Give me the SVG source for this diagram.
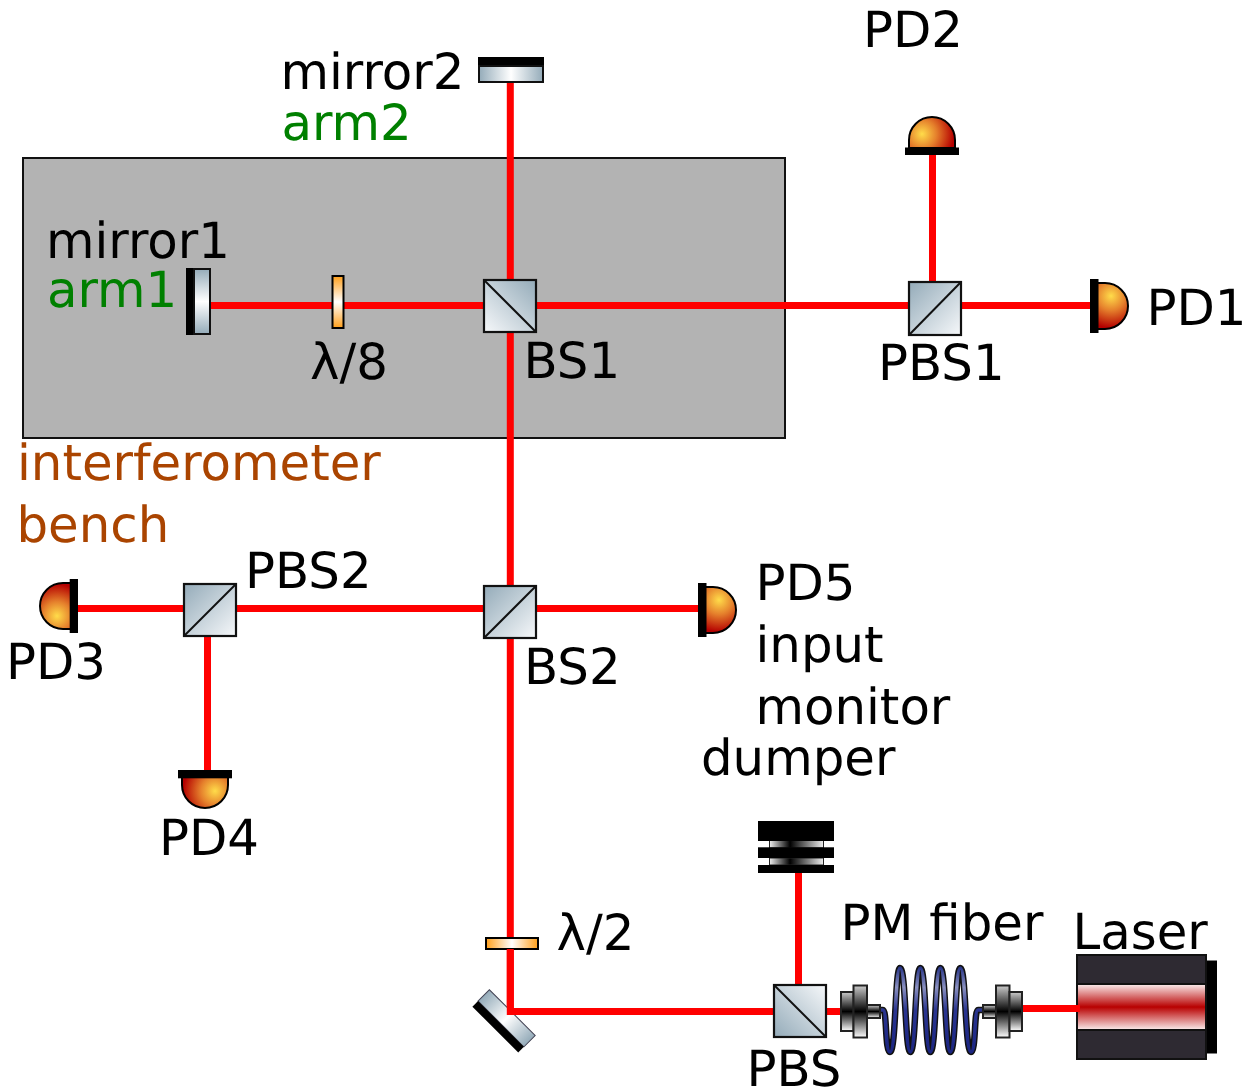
<svg xmlns="http://www.w3.org/2000/svg" xmlns:xlink="http://www.w3.org/1999/xlink" width="1250" height="1092" viewBox="0 0 1250 1092">
<style>
text{font-family:"DejaVu Sans",sans-serif;font-size:49.8px;fill:#000;text-rendering:geometricPrecision}
.g{fill:#008000}.o{fill:#aa4400}
.beam{fill:none;stroke:#f00;stroke-width:7}
.tl{fill:url(#cubeTL);stroke:#111;stroke-width:2.200}
.tr{fill:url(#cubeTR);stroke:#111;stroke-width:2.200}
.bl{fill:url(#cubeBL);stroke:#111;stroke-width:2.200}
.diag{stroke:#111;stroke-width:2;fill:none}
.pd{fill:url(#pdg);stroke:#000;stroke-width:2}
.plate{stroke:#000;stroke-width:2}
.fb{fill:none;stroke:#111;stroke-width:6.500}
.fi{fill:none;stroke:url(#fibg);stroke-width:3.600}
.col{stroke:#222;stroke-width:2;fill:url(#colg)}
.glassH{fill:url(#mh)}
</style>
<defs>
<linearGradient id="cubeTL" x1="0" y1="0" x2="1" y2="1"><stop offset="0" stop-color="#94abb9"/><stop offset="1" stop-color="#f6f8fa"/></linearGradient>
<linearGradient id="cubeTR" x1="1" y1="0" x2="0" y2="1"><stop offset="0" stop-color="#94abb9"/><stop offset="1" stop-color="#f6f8fa"/></linearGradient>
<linearGradient id="cubeBL" x1="0" y1="1" x2="1" y2="0"><stop offset="0" stop-color="#94abb9"/><stop offset="1" stop-color="#f6f8fa"/></linearGradient>
<linearGradient id="mv" x1="0" y1="0" x2="0" y2="1"><stop offset="0" stop-color="#94abb9"/><stop offset=".5" stop-color="#fff"/><stop offset="1" stop-color="#94abb9"/></linearGradient>
<linearGradient id="mh" x1="0" y1="0" x2="1" y2="0"><stop offset="0" stop-color="#94abb9"/><stop offset=".5" stop-color="#fff"/><stop offset="1" stop-color="#94abb9"/></linearGradient>
<linearGradient id="wv" x1="0" y1="0" x2="0" y2="1"><stop offset="0" stop-color="#ff9f1a"/><stop offset=".5" stop-color="#fff"/><stop offset="1" stop-color="#ff9f1a"/></linearGradient>
<linearGradient id="wh" x1="0" y1="0" x2="1" y2="0"><stop offset="0" stop-color="#ff9f1a"/><stop offset=".5" stop-color="#fff"/><stop offset="1" stop-color="#ff9f1a"/></linearGradient>
<radialGradient id="pdg" gradientUnits="userSpaceOnUse" cx="-10" cy="-14" r="32"><stop offset="0" stop-color="#ffdc4a"/><stop offset=".45" stop-color="#e5802c"/><stop offset="1" stop-color="#b40000"/></radialGradient>
<path id="dome" class="pd" d="M-23 0V-8A23 23 0 0 1 23 -8V0Z"/>
<linearGradient id="dump" x1="0" y1="0" x2="1" y2="0"><stop offset="0" stop-color="#eee"/><stop offset=".38" stop-color="#000"/><stop offset="1" stop-color="#eee"/></linearGradient>
<linearGradient id="las" x1="0" y1="0" x2="0" y2="1"><stop offset="0" stop-color="#fbeeee"/><stop offset=".5" stop-color="#b80000"/><stop offset="1" stop-color="#fbeeee"/></linearGradient>
<linearGradient id="colg" x1="0" y1="0" x2="0" y2="1"><stop offset="0" stop-color="#ccc"/><stop offset=".5" stop-color="#000"/><stop offset="1" stop-color="#fff"/></linearGradient>
<linearGradient id="fibg" gradientUnits="userSpaceOnUse" x1="0" y1="965" x2="0" y2="1055"><stop offset="0" stop-color="#1c2a80"/><stop offset=".25" stop-color="#8a90c0"/><stop offset=".5" stop-color="#2a3590"/><stop offset="1" stop-color="#1a2480"/></linearGradient>
</defs>

<g id="bench"><rect x="23" y="158" width="762" height="280" fill="#b3b3b3" stroke="#111" stroke-width="2"/></g>

<g id="connectors">
<path class="beam" d="M510.300 80V1011.500H776"/>
<path class="beam" d="M209 305.500H1092"/>
<path class="beam" d="M932.500 154V282"/>
<path class="beam" d="M76 608.500H700"/>
<path class="beam" d="M207.500 636V772"/>
<path class="beam" d="M798.500 872V986"/>
<path class="beam" d="M826 1011.500H842"/>
<path class="beam" d="M1021 1008.500H1080"/>
</g>

<g id="mirror2"><rect x="478" y="57" width="66" height="9" fill="#000"/><rect class="glassH" x="479" y="66" width="64" height="16" stroke="#111" stroke-width="2"/></g>
<g id="mirror1"><rect x="186" y="268" width="9" height="67" fill="#000"/><rect x="194" y="269" width="16" height="65" fill="url(#mv)" stroke="#111" stroke-width="2"/></g>
<g id="waveplate8"><rect x="332.500" y="276" width="11" height="52" fill="url(#wv)" class="plate"/></g>
<g id="BS1"><rect class="tr" x="484" y="280" width="52" height="52"/><path class="diag" d="M484 280L536 332"/></g>
<g id="PBS1"><rect class="tl" x="909" y="282" width="52" height="53"/><path class="diag" d="M909 335L961 282"/></g>
<g id="PD2"><use href="#dome" transform="translate(932 148)"/><rect x="905" y="147.500" width="54" height="7.500" fill="#000"/></g>
<g id="PD1"><use href="#dome" transform="translate(1097 306)rotate(90)"/><rect x="1090" y="279" width="8.500" height="54" fill="#000"/></g>
<g id="PBS2"><rect class="tl" x="184" y="584" width="52" height="52"/><path class="diag" d="M184 636L236 584"/></g>
<g id="BS2"><rect class="tl" x="484" y="586" width="52" height="52"/><path class="diag" d="M484 638L536 586"/></g>
<g id="PD5"><use href="#dome" transform="translate(705 610)rotate(90)"/><rect x="698" y="583" width="8.500" height="54" fill="#000"/></g>
<g id="PD3"><use href="#dome" transform="translate(71 606)rotate(-90)"/><rect x="69.700" y="579" width="8.300" height="54" fill="#000"/></g>
<g id="PD4"><use href="#dome" transform="translate(205 777)rotate(180)"/><rect x="178" y="770" width="54" height="8.300" fill="#000"/></g>
<g id="dumper">
<rect x="769.500" y="840" width="54" height="8" fill="url(#dump)" stroke="#222"/>
<rect x="769.500" y="858" width="54" height="7" fill="url(#dump)" stroke="#222"/>
<rect x="758" y="821" width="76" height="20" fill="#000"/>
<rect x="758" y="847.300" width="76" height="10.700" fill="#000"/>
<rect x="758" y="865" width="76" height="8" fill="#000"/>
</g>
<g id="waveplate2"><rect x="486" y="938" width="52" height="11" fill="url(#wh)" class="plate"/></g>
<g id="mirror3" transform="translate(503.800 1021.100) rotate(45)">
<rect class="glassH" x="-32.400" y="-12" width="64.800" height="16" stroke="#445" stroke-width="1"/>
<rect x="-32.400" y="4" width="64.800" height="8" fill="#000"/>
</g>
<path class="beam" d="M510.300 949V1011.500H540"/>
<g id="PBS"><rect class="bl" x="774" y="985" width="52" height="52"/><path class="diag" d="M774 985L826 1037"/></g>
<g id="fiber">
<path class="fb" d="M880 1010H883C887 1010 885 1052 890 1052C896 1052 895 968 900 968C906 968 905 1052 910.300 1052C916 1052 915 968 920.300 968C926 968 925 1052 930.300 1052C936 1052 935 968 940.300 968C946 968 945 1052 950.300 1052C956 1052 955 968 960.300 968C966 968 965 1052 971 1052C976 1052 974 1010 978 1010H983"/>
<path class="fi" d="M880 1010H883C887 1010 885 1052 890 1052C896 1052 895 968 900 968C906 968 905 1052 910.300 1052C916 1052 915 968 920.300 968C926 968 925 1052 930.300 1052C936 1052 935 968 940.300 968C946 968 945 1052 950.300 1052C956 1052 955 968 960.300 968C966 968 965 1052 971 1052C976 1052 974 1010 978 1010H983"/>
</g>
<g id="coupler1"><rect class="col" x="841" y="992" width="12.500" height="39"/><rect class="col" x="853.500" y="985.500" width="13.500" height="52"/><rect class="col" x="867" y="1005" width="13" height="13"/></g>
<g id="coupler2"><rect class="col" x="983" y="1005" width="13" height="13"/><rect class="col" x="996" y="985.500" width="13.500" height="52"/><rect class="col" x="1009.500" y="992" width="12.500" height="39"/></g>
<g id="laser">
<rect x="1206" y="960.500" width="11" height="93" fill="#000"/>
<rect x="1077" y="955" width="129" height="104" fill="#2e2a32" stroke="#111" stroke-width="2"/>
<rect x="1077" y="984" width="129" height="46" fill="url(#las)" stroke="#111" stroke-width="2"/>
<path class="beam" d="M1060 1008.500H1080"/>
</g>

<g id="labels">
<text x="863" y="46.500">PD2</text>
<text x="280.500" y="88.500">mirror2</text>
<text class="g" x="281.500" y="140">arm2</text>
<text x="46" y="257.500">mirror1</text>
<text class="g" x="47" y="306.500">arm1</text>
<text x="310" y="378.500">λ/8</text>
<text x="523.500" y="378">BS1</text>
<text x="878" y="379.500">PBS1</text>
<text x="1146.500" y="324.500">PD1</text>
<text class="o" x="17" y="479.500">interferometer</text>
<text class="o" x="16.500" y="541.500">bench</text>
<text x="245" y="587.500">PBS2</text>
<text x="6" y="678.500">PD3</text>
<text x="524" y="684">BS2</text>
<text x="755.500" y="600">PD5</text>
<text x="755.500" y="661.500">input</text>
<text x="755.500" y="724">monitor</text>
<text x="701" y="774.500">dumper</text>
<text x="159" y="854.500">PD4</text>
<text x="556.500" y="949.500">λ/2</text>
<text x="840.500" y="939.500">PM fiber</text>
<text x="1072.500" y="948.500">Laser</text>
<text x="746.500" y="1085.500">PBS</text>
</g>
</svg>
